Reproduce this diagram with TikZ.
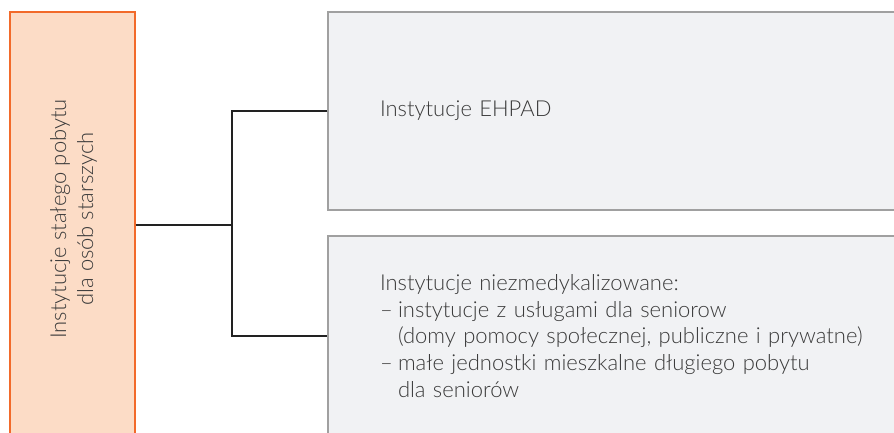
\documentclass[tikz,border=0pt]{standalone}
\usepackage{fontspec}
\setmainfont{Lato}[UprightFont=* Light]
\usepackage{tikz}
\usetikzlibrary{calc, positioning}

\definecolor{orangeline}{HTML}{F26A2A}
\definecolor{orangefill}{HTML}{FCDCC6}
\definecolor{greyline}{HTML}{A0A0A0}
\definecolor{greyfill}{HTML}{F1F2F4}
\definecolor{textgrey}{HTML}{3A3A3A}
\definecolor{linkgrey}{HTML}{222222}

\tikzset{
	mainbox/.style={draw=orangeline, fill=orangefill, line width=1.3pt, minimum width=125pt, minimum height=426pt, inner sep=0pt},
	subbox/.style={draw=greyline, fill=greyfill, line width=1.1pt, minimum height=198pt, text width=496pt, inner xsep=52pt, inner ysep=0pt, align=left, text=textgrey, font=\fontsize{22}{26.6}\selectfont},
	link/.style={draw=linkgrey, line width=1.6pt}
}

\begin{document}
\begin{tikzpicture}[x=1pt, y=-1pt]
				
				% Frame
				\clip (0,0) rectangle (894,432);
				\fill[white] (0,0) rectangle (894,432);
				
				% Boxes
				\node[mainbox] (main) at (72.5,225) {};
				\node[rotate=90, align=center, text=textgrey, font=\fontsize{22}{27}\selectfont] (maintext) at (73.5,219) {Instytucje stałego pobytu\\dla osób starszych};
				\node[subbox] (ehpad) at (628,111) {Instytucje EHPAD};
				\node[subbox, minimum height=200pt] (other) at (628,336) {Instytucje niezmedykalizowane:\\
					\makebox[18pt][l]{–}instytucje z usługami dla seniorow\\
					\hspace*{18pt}(domy pomocy społecznej, publiczne i prywatne)\\
					\makebox[18pt][l]{–}małe jednostki mieszkalne długiego pobytu\\
					\hspace*{18pt}dla seniorów};
				
				% Connectors
				\coordinate (fork) at (232,225);
				\draw[link] (main.east) -- (fork);
				\draw[link] (ehpad.west) -| (fork) |- (other.west);
			\end{tikzpicture}
\end{document}
